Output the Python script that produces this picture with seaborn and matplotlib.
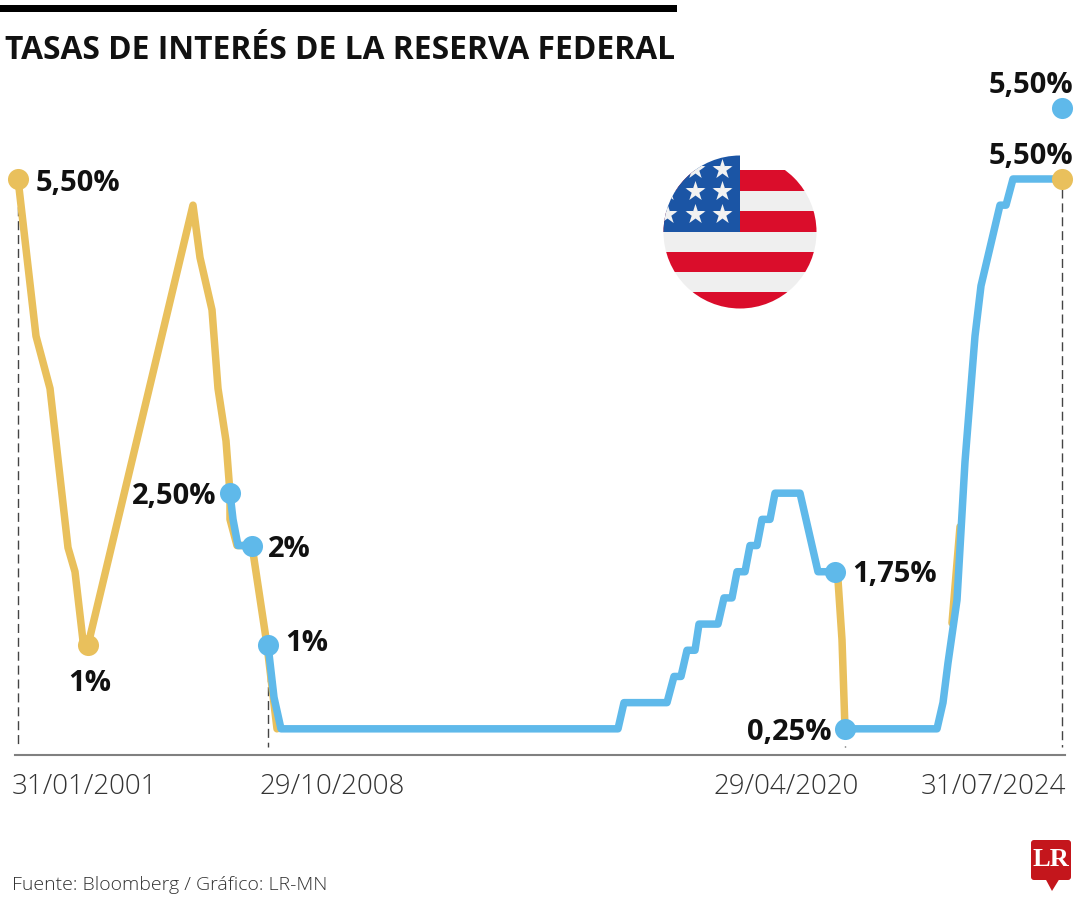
import matplotlib
matplotlib.use('Agg')
import matplotlib.pyplot as plt
from matplotlib.patches import Circle, FancyBboxPatch, Polygon, Rectangle
import pandas as pd
import seaborn as sns

# tasa en %, eje x = posicion a lo largo del grafico (no es lineal en el tiempo)
am1_x = [0, 18, 32, 50, 57, 65, 70, 175, 182, 194, 200, 208, 212, 212, 219, 234, 249, 259]
am1_y = [5.5, 4.0, 3.5, 1.98, 1.75, 1.09, 1.05, 5.25, 4.75, 4.25, 3.5, 3.0, 2.5, 2.25, 2.0, 2.0, 1.05, 0.25]
am2_x = [817, 820, 824, 827]
am2_y = [1.75, 1.67, 1.1, 0.25]
am3_x = [934, 942]
am3_y = [1.26, 2.18]

az1_x = [212, 215, 220, 234]
az1_y = [2.5, 2.25, 2.0, 2.0]
az2_x = [250, 256, 263, 600, 606, 649, 656, 663, 669, 677, 681, 700, 706, 714, 719, 727, 732, 739, 744, 752, 757, 782, 800, 817]
az2_y = [1.05, 0.55, 0.25, 0.25, 0.5, 0.5, 0.75, 0.75, 1.0, 1.0, 1.25, 1.25, 1.5, 1.5, 1.75, 1.75, 2.0, 2.0, 2.25, 2.25, 2.5, 2.5, 1.75, 1.75]
az3_x = [827, 919, 925, 930, 939, 947, 957, 963, 982, 988, 995, 1044]
az3_y = [0.25, 0.25, 0.5, 0.88, 1.48, 2.8, 4.0, 4.48, 5.25, 5.25, 5.5, 5.5]

pts_am_x = [0, 70, 1044]
pts_am_y = [5.5, 1.05, 5.5]
pts_az_x = [212, 234, 250, 817, 827, 1044]
pts_az_y = [2.5, 2.0, 1.05, 1.75, 0.25, 6.18]

fechas = ['31/01/2001', '29/10/2008', '29/04/2020', '31/07/2024']
fechas_x = [66, 314, 768, 975]
guias_x = [0, 250, 827, 1044]
guias_y = [5.5, 1.05, 0.09, 5.4]

AMARILLO = '#E9C05C'
AZUL = '#5FB9EA'

sns.set_style('white')
plt.rcParams['font.family'] = ['Open Sans', 'DejaVu Sans']

fig = plt.figure(figsize=(10.8, 9), dpi=100)
ax = fig.add_axes([15 / 1080, 1 - 755 / 900, 1050 / 1080, 660 / 900])
ax.set_xlim(-3, 1047)
ax.set_ylim(0, 660 / 104.73)

for gx, gy in zip(guias_x, guias_y):
    ax.plot([gx, gx], [gy, 0.08], color='#444444', lw=1, ls=(0, (6.5, 3.5)), zorder=1)

for xs, ys in [(am1_x, am1_y), (am2_x, am2_y), (am3_x, am3_y)]:
    sns.lineplot(x=xs, y=ys, ax=ax, color=AMARILLO, lw=5.4, sort=False, estimator=None, zorder=2)
for xs, ys in [(az1_x, az1_y), (az2_x, az2_y), (az3_x, az3_y)]:
    sns.lineplot(x=xs, y=ys, ax=ax, color=AZUL, lw=5.4, sort=False, estimator=None, zorder=3)

sns.scatterplot(x=pts_am_x, y=pts_am_y, ax=ax, color=AMARILLO, s=230, linewidth=0, zorder=4, clip_on=False)
sns.scatterplot(x=pts_az_x, y=pts_az_y, ax=ax, color=AZUL, s=230, linewidth=0, zorder=4, clip_on=False)

etiquetas = [
    ('5,50%', 0, 5.5, 18, -5, 'left'),
    ('1%', 70, 1.05, 2, -38, 'center'),
    ('2,50%', 212, 2.5, -14, -3, 'right'),
    ('2%', 234, 2.0, 16, -4, 'left'),
    ('1%', 250, 1.05, 17, 2, 'left'),
    ('1,75%', 817, 1.75, 17, -3, 'left'),
    ('0,25%', 827, 0.25, -13, -4, 'right'),
    ('5,50%', 1044, 6.18, 11, 22, 'right'),
    ('5,50%', 1044, 5.5, 11, 22, 'right'),
]
for txt, x, y, dx, dy, ha in etiquetas:
    ax.annotate(txt, xy=(x, y), xytext=(dx, dy), textcoords='offset pixels', ha=ha, va='center',
                fontsize=21, fontweight='bold', color='#111111', zorder=5)

for f, x in zip(fechas, fechas_x):
    ax.annotate(f, xy=(x, 0), xytext=(0, -32), textcoords='offset pixels', ha='center', va='center',
                fontsize=20, fontweight='light', color='#333333')

sns.despine(ax=ax, left=True, top=True, right=True)
ax.spines['bottom'].set_color('#808080')
ax.spines['bottom'].set_linewidth(1.5)
ax.set_xticks([])
ax.set_yticks([])
ax.patch.set_alpha(0)

# capa en pixeles para barra, bandera y logo
deco = fig.add_axes([0, 0, 1, 1], zorder=-1)
deco.set_xlim(0, 1080)
deco.set_ylim(900, 0)
deco.axis('off')
deco.add_patch(Rectangle((0, 5), 677, 7, color='black', lw=0))

fig.text(5 / 1080, 1 - 59 / 900, 'TASAS DE INTERÉS DE LA RESERVA FEDERAL', fontsize=22.9, fontweight='bold',
         color='#111111', va='baseline', ha='left')
fig.text(12 / 1080, 1 - 885 / 900, 'Fuente: Bloomberg / Gráfico: LR-MN', fontsize=14, fontweight='light',
         color='#333333', va='center', ha='left')

circulo = Circle((740, 232), 76.5, transform=deco.transData, fc='none', ec='none')
deco.add_patch(circulo)
franjas = [(170, 191, '#DA0D2B'), (191, 211, '#EFEFEF'), (211, 232, '#DA0D2B'), (232, 252, '#EFEFEF'),
           (252, 272, '#DA0D2B'), (272, 292, '#EFEFEF'), (292, 310, '#DA0D2B')]
for y0, y1, c in franjas:
    r = Rectangle((660, y0), 160, y1 - y0, color=c, lw=0)
    deco.add_patch(r)
    r.set_clip_path(circulo)
canton = Rectangle((660, 150), 80, 82, color='#1B55A5', lw=0)
deco.add_patch(canton)
canton.set_clip_path(circulo)
estrellas_x = [722, 695, 722, 695, 722, 667, 695, 667]
estrellas_y = [169, 191, 191, 214, 214, 214, 169, 191]
st = deco.scatter(estrellas_x, estrellas_y, marker='*', s=230, color='#F2F2F2', linewidth=0, zorder=3)
st.set_clip_path(circulo)

deco.add_patch(FancyBboxPatch((1033, 842), 36, 36, boxstyle='round,pad=2,rounding_size=3', fc='#C4161C', ec='none'))
deco.add_patch(Polygon([[1045, 878], [1060, 878], [1052, 891]], fc='#C4161C', ec='none'))
deco.text(1051, 860, 'LR', family='Liberation Serif', fontweight='bold', fontsize=19, color='white', ha='center', va='center')

fig.savefig('out.png', dpi=100)
